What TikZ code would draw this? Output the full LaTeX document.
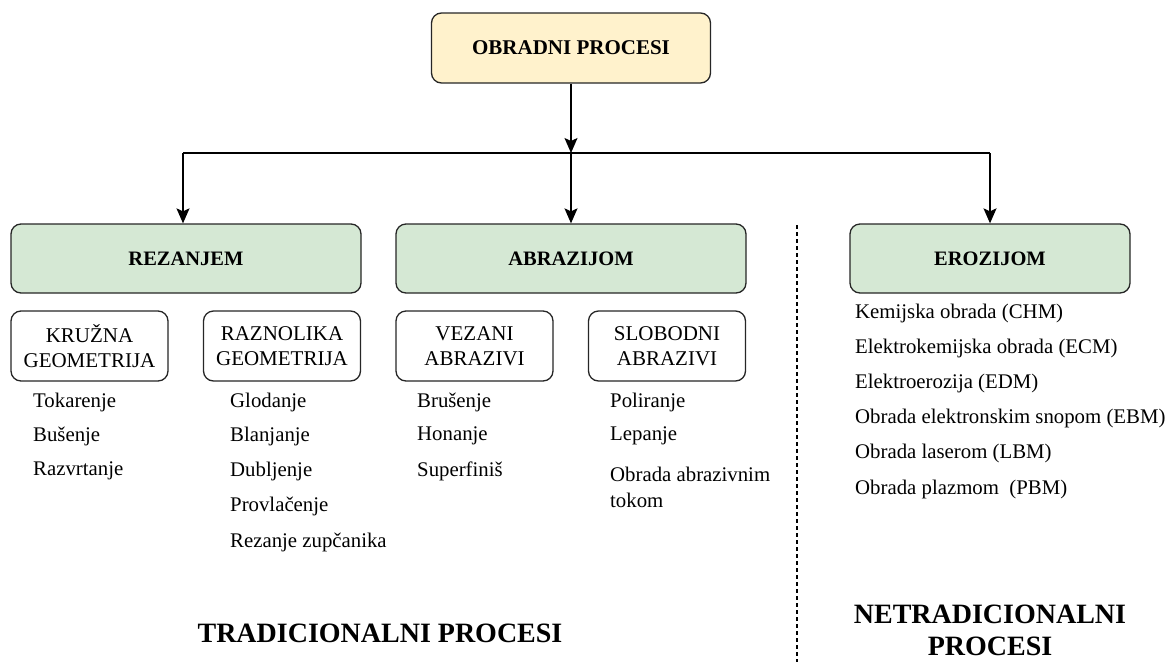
\documentclass[tikz,border=0pt]{standalone}
\usepackage{fontspec}
\setmainfont{Liberation Serif}
\usetikzlibrary{arrows.meta,positioning}
\definecolor{rootyellow}{HTML}{FFF2CC}
\definecolor{groupgreen}{HTML}{D5E8D4}

\begin{document}
\begin{tikzpicture}
          [x=1pt, y=-1pt,
          font=\fontsize{21}{24}\selectfont,
          box/.style={draw=black!85, line width=1.3pt, rounded corners=10pt, inner sep=0pt, minimum height=70pt, align=center},
          rootbox/.style={box, fill=rootyellow, minimum width=279pt, font=\fontsize{21}{24}\selectfont\bfseries},
          groupbox/.style={box, fill=groupgreen, minimum height=69pt, font=\fontsize{20.5}{24}\selectfont\bfseries},
          subbox/.style={box, fill=white, minimum width=157pt, font=\fontsize{21}{25}\selectfont},
          item/.style={anchor=west, inner sep=0pt, align=left, font=\fontsize{20.8}{26}\selectfont},
          title/.style={align=center, font=\fontsize{28}{32}\selectfont\bfseries},
          line/.style={draw, line width=1.3pt, -{Stealth[length=15pt, width=13pt, inset=3pt]}}]
          \useasboundingbox (0,0) rectangle (1170,662);

          % glavni cvor i grupe
          \node [rootbox] (obrada) at (571,48) {OBRADNI PROCESI};
          \node [groupbox, minimum width=350pt] (rezanjem) at (186,258.5) {REZANJEM};
          \node [groupbox, minimum width=350pt] (abrazijom) at (571,258.5) {ABRAZIJOM};
          \node [groupbox, minimum width=280pt] (erozijom) at (990,258.5) {EROZIJOM};

          % podgrupe
          \node [subbox] (kruzna) at (89.5,346) {KRUŽNA\\GEOMETRIJA};
          \node [subbox] (raznolika) at (282,346) {RAZNOLIKA\\GEOMETRIJA};
          \node [subbox] (vezani) at (474.5,346) {VEZANI\\ABRAZIVI};
          \node [subbox] (slobodni) at (667,346) {SLOBODNI\\ABRAZIVI};

          % postupci
          \node [item] (tokarenje) at (33,402) {Tokarenje};
          \node [item] (busenje) at (33,436) {Bušenje};
          \node [item] (razvrtanje) at (33,471) {Razvrtanje};

          \node [item] (glodanje) at (230,402) {Glodanje};
          \node [item] (blanjanje) at (230,436) {Blanjanje};
          \node [item] (dubljenje) at (230,471) {Dubljenje};
          \node [item] (provlacenje) at (230,506) {Provlačenje};
          \node [item] (zupcanik) at (230,542) {Rezanje zupčanika};

          \node [item] (brusenje) at (417,402) {Brušenje};
          \node [item] (honanje) at (417,436) {Honanje};
          \node [item] (superfinis) at (417,471) {Superfiniš};

          \node [item] (poliranje) at (610,402) {Poliranje};
          \node [item] (lepanje) at (610,436) {Lepanje};
          \node [item] (tokom) at (610,487) {Obrada abrazivnim\\tokom};

          \node [item] (chm) at (855,313) {Kemijska obrada (CHM)};
          \node [item] (ecm) at (855,348) {Elektrokemijska obrada (ECM)};
          \node [item] (edm) at (855,383) {Elektroerozija (EDM)};
          \node [item] (ebm) at (855,418) {Obrada elektronskim snopom (EBM)};
          \node [item] (lbm) at (855,453) {Obrada laserom (LBM)};
          \node [item] (pbm) at (855,489) {Obrada plazmom\ \ (PBM)};

          % naslovi
          \node [title] (tradicionalni) at (380,633) {TRADICIONALNI PROCESI};
          \node [title] (netradicionalni) at (990,630) {NETRADICIONALNI\\PROCESI};

          % veze
          \coordinate (busL) at (183,153);
          \coordinate (busR) at (990,153);
          \path [line] (obrada) -- (obrada |- busL);
          \draw [line width=1.3pt] (busL) -- (busR);
          \path [line] (busL) -- (busL |- rezanjem.north);
          \path [line] (obrada |- busL) -- (abrazijom.north);
          \path [line] (busR) -- (erozijom.north);

          \draw [line width=1.2pt, dash pattern=on 4pt off 3pt] (797,225) -- (797,662);
  \end{tikzpicture}
\end{document}
